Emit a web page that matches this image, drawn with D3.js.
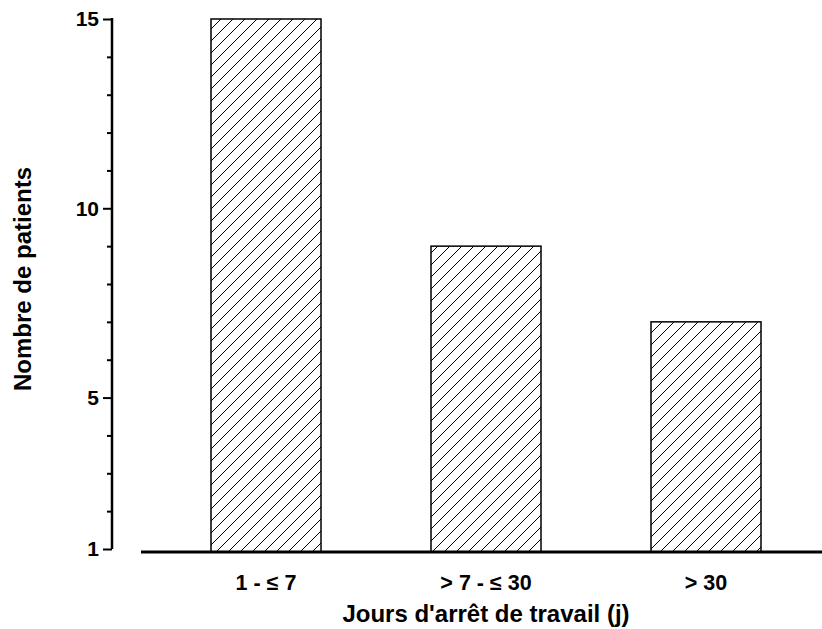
<!DOCTYPE html>
<html><head><meta charset="utf-8">
<script src="https://cdn.jsdelivr.net/npm/d3@7"></script>
<style>body{margin:0;background:#fff}text{font-family:Arial,"Liberation Sans",sans-serif;font-weight:bold;fill:#000}</style>
</head><body><svg id="c" width="822" height="629"></svg>
<script>
const categories = ["1 - \u2264 7", "> 7 - \u2264 30", "> 30"];
const values = [15, 9, 7];
const yTickValues = [1,2,3,4,5,6,7,8,9,10,11,12,13,14,15];
const yTickLabels = [1, 5, 10, 15];
const xTitle = "Jours d'arr\u00eat de travail (j)";
const yTitle = "Nombre de patients";

const svg = d3.select("#c");
const y = d3.scaleLinear().domain([1,15]).range([549,19]);
const x = d3.scaleBand().domain(categories).range([156,816]).paddingInner(0.5).paddingOuter(0.25);

const defs = svg.append("defs");
const pat = defs.append("pattern").attr("id","hatch").attr("patternUnits","userSpaceOnUse")
  .attr("width",12).attr("height",12);
pat.append("path").attr("d","M0,12 L12,0 M-3,3 L3,-3 M9,15 L15,9").attr("stroke","#000").attr("stroke-width",1);

// bars
svg.selectAll("rect.bar").data(values).join("rect").attr("class","bar")
  .attr("x",(d,i)=>x(categories[i])).attr("width",x.bandwidth())
  .attr("y",d=>y(d)).attr("height",d=>552-y(d))
  .attr("fill","url(#hatch)").attr("stroke","#000").attr("stroke-width",1.5);

// y axis
const yAxis = d3.axisLeft(y).tickValues(yTickValues)
  .tickSize(0).tickFormat(d=>yTickLabels.includes(d)?d:"");
const gy = svg.append("g").attr("transform","translate(112,0)").call(yAxis);
gy.attr("font-size",null).attr("font-family",null);
gy.select(".domain").remove();
gy.append("line").attr("x1",0).attr("x2",0).attr("y1",y(1)).attr("y2",y(15)-1).attr("stroke","#000").attr("stroke-width",2.5);
gy.selectAll(".tick line").attr("x1",d=>yTickLabels.includes(d)?-9:-5).attr("x2",0)
  .attr("stroke","#000").attr("stroke-width",2);
gy.selectAll(".tick text").attr("x",-13).style("font-size","21px");

// x axis
const xAxis = d3.axisBottom(x).tickSize(0);
const gx = svg.append("g").attr("transform","translate(0,552)").call(xAxis);
gx.attr("font-size",null).attr("font-family",null);
gx.select(".domain").remove();
gx.append("line").attr("x1",141).attr("x2",822).attr("y1",0).attr("y2",0).attr("stroke","#000").attr("stroke-width",3);
gx.selectAll(".tick text").attr("y",38).attr("dy",0).style("font-size","21.5px");

// titles
svg.append("text").attr("x",x(categories[1])+x.bandwidth()/2).attr("y",622).attr("text-anchor","middle")
  .style("font-size","24px").text(xTitle);
svg.append("text").attr("transform","translate(31,279) rotate(-90)").attr("text-anchor","middle")
  .style("font-size","24px").text(yTitle);
</script></body></html>
